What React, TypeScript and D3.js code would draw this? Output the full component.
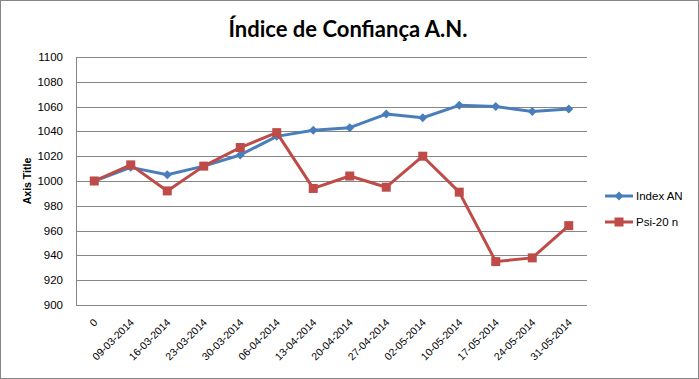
import React from "react";
import * as d3 from "d3";

const categories = ["0", "09-03-2014", "16-03-2014", "23-03-2014", "30-03-2014", "06-04-2014", "13-04-2014", "20-04-2014", "27-04-2014", "02-05-2014", "10-05-2014", "17-05-2014", "24-05-2014", "31-05-2014"];
const indexAN = [1000, 1011, 1005, 1012, 1021, 1036, 1041, 1043, 1054, 1051, 1061, 1060, 1056, 1058];
const psi20 = [1000, 1013, 992, 1012, 1027, 1039, 994, 1004, 995, 1020, 991, 935, 938, 964];
const yTicks = [900, 920, 940, 960, 980, 1000, 1020, 1040, 1060, 1080, 1100];

const W = 699, H = 379;
const left = 76, right = 587, top = 57, bottom = 305;
const BLUE = "#4A7EBB", RED = "#BE4B48";
const LF = "'Liberation Sans', Arial, sans-serif";

export default function App() {
  const x = d3.scaleBand<string>().domain(categories).range([left, right]);
  const y = d3.scaleLinear().domain([900, 1100]).range([bottom, top]);
  const cx = (c: string) => (x(c) as number) + x.bandwidth() / 2;
  const line = d3.line<number>().x((_, i) => cx(categories[i])).y((d) => y(d));
  const diamond = (px: number, py: number, k: string | number) => (
    <path key={k} d={`M${px},${py - 4.5}L${px + 4.5},${py}L${px},${py + 4.5}L${px - 4.5},${py}Z`} fill={BLUE} />
  );
  const square = (px: number, py: number, k: string | number) => (
    <rect key={k} x={px - 4.5} y={py - 4.5} width={9} height={9} fill={RED} />
  );
  return (
    <svg width={W} height={H} style={{ position: "absolute", left: 0, top: 0, fontFamily: LF }}>
      <rect x={0.5} y={0.5} width={W - 1} height={H - 1} fill="#fff" stroke="#868686" />
      <text x={348} y={37} textAnchor="middle" fontSize={22} fontWeight="bold" fontFamily="Lato, sans-serif" fill="#000">Índice de Confiança A.N.</text>
      {yTicks.map((t) => (
        <g key={t}>
          <line x1={left} x2={right} y1={Math.round(y(t)) + 0.5} y2={Math.round(y(t)) + 0.5} stroke="#868686" />
          <text x={left - 13} y={y(t) + 4} textAnchor="end" fontSize={11.5} fill="#000">{t}</text>
        </g>
      ))}
      <line x1={left + 0.5} x2={left + 0.5} y1={top} y2={bottom} stroke="#868686" />
      <text transform={`translate(31,${(top + bottom) / 2}) rotate(-90)`} textAnchor="middle" fontSize={10.5} fontWeight="bold">Axis Title</text>
      {categories.map((c) => (
        <text key={c} transform={`translate(${cx(c) + 4},${bottom + 18}) rotate(-45)`} textAnchor="end" fontSize={10.5} fill="#000">{c}</text>
      ))}
      <path d={line(indexAN) || ""} fill="none" stroke={BLUE} strokeWidth={3} strokeLinejoin="round" />
      {indexAN.map((v, i) => diamond(cx(categories[i]), y(v), "d" + i))}
      <path d={line(psi20) || ""} fill="none" stroke={RED} strokeWidth={3} strokeLinejoin="round" />
      {psi20.map((v, i) => square(cx(categories[i]), y(v), "s" + i))}
      <line x1={605} x2={633} y1={196} y2={196} stroke={BLUE} strokeWidth={3} />
      {diamond(619, 196, "ld")}
      <text x={636} y={200} fontSize={11.5}>Index AN</text>
      <line x1={605} x2={633} y1={222} y2={222} stroke={RED} strokeWidth={3} />
      {square(619, 222, "ls")}
      <text x={636} y={226} fontSize={11.5}>Psi-20 n</text>
    </svg>
  );
}
